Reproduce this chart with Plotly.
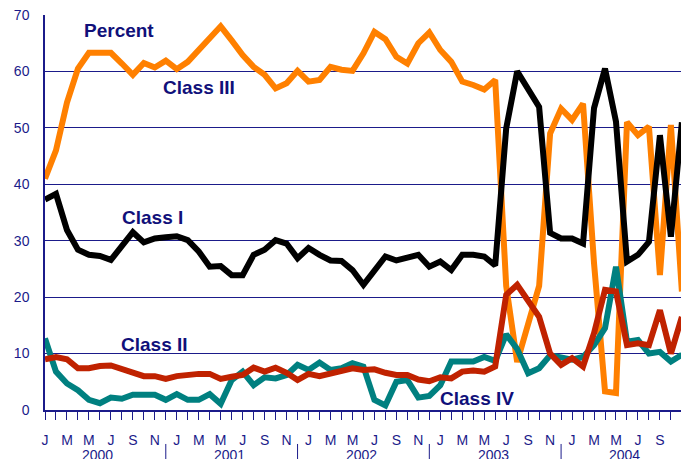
import plotly.graph_objects as go

# monthly series, Jan 2000 .. Nov 2004 (percent)
month_initials = ["J", "F", "M", "A", "M", "J", "J", "A", "S", "O", "N", "D"]
years = ["2000", "2001", "2002", "2003", "2004"]

class_i = [
    37.3, 38.3, 31.9, 28.4, 27.5, 27.3, 26.6, 29.2, 31.5, 29.7, 30.4, 30.6,
    30.8, 30.1, 28.1, 25.4, 25.5, 23.9, 23.9, 27.5, 28.4, 30.1, 29.5, 26.9,
    28.7, 27.5, 26.5, 26.4, 24.8, 22.2, 24.5, 27.2, 26.5, 26.9, 27.5, 25.4,
    26.3, 24.8, 27.5, 27.5, 27.2, 25.6, 49.9, 60.0, 57.0, 53.7, 31.4, 30.4,
    30.4, 29.5, 53.5, 60.5, 51.1, 26.3, 27.5, 29.8, 48.7, 30.7, 51.0,
]
class_ii = [
    9.0, 9.4, 9.0, 7.4, 7.4, 7.8, 7.9, 7.2, 6.5, 6.0, 6.0, 5.5,
    6.0, 6.3, 6.4, 6.4, 5.5, 5.9, 6.2, 7.5, 6.8, 7.5, 6.6, 5.3,
    6.4, 6.0, 6.4, 6.8, 7.4, 7.1, 7.2, 6.6, 6.2, 6.2, 5.4, 5.1,
    5.8, 5.6, 6.8, 7.0, 6.8, 7.7, 20.4, 22.2, 19.5, 16.5, 10.0, 8.0,
    9.2, 7.7, 13.6, 21.3, 21.0, 11.5, 11.8, 11.5, 17.7, 10.0, 16.5,
]
class_iii = [
    41.0, 46.0, 54.5, 60.5, 63.3, 63.4, 63.3, 61.4, 59.4, 61.5, 60.7, 61.9,
    60.4, 61.7, 63.8, 65.7, 68.0, 65.5, 62.9, 60.8, 59.4, 57.0, 57.9, 60.1,
    58.2, 58.5, 60.8, 60.3, 60.1, 63.2, 67.0, 65.7, 62.6, 61.4, 65.0, 66.9,
    63.8, 61.7, 58.2, 57.6, 56.8, 58.5, 22.0, 8.5, 15.5, 22.0, 49.0, 53.4,
    51.4, 54.3, 26.0, 3.3, 3.0, 51.0, 48.7, 50.2, 23.9, 50.5, 21.0,
]
class_iv = [
    12.7, 6.8, 4.7, 3.5, 1.8, 1.2, 2.2, 2.0, 2.7, 2.8, 2.7, 1.8,
    2.8, 1.8, 1.8, 2.8, 1.1, 5.3, 6.8, 4.4, 5.8, 5.6, 6.2, 8.0,
    7.1, 8.4, 7.1, 7.4, 8.3, 7.7, 1.8, 0.8, 5.0, 5.3, 2.2, 2.5,
    4.4, 8.6, 8.6, 8.6, 9.4, 8.7, 13.4, 10.8, 6.5, 7.4, 9.7, 9.4,
    8.9, 9.4, 11.5, 14.5, 25.4, 12.1, 12.4, 10.0, 10.3, 8.6, 9.8,
]

NAVY = "#1b1b8a"
TEXT = "#10107a"
FONT = "Liberation Sans, Arial, sans-serif"

months = list(range(len(class_i)))
tick_text = [month_initials[m % 12] if m % 2 == 0 else "" for m in months]

fig = go.Figure()
series = [
    ("Class III", class_iii, "#ff8000"),
    ("Class I", class_i, "#000000"),
    ("Class IV", class_iv, "#008080"),
    ("Class II", class_ii, "#c02200"),
]
for name, vals, color in series:
    fig.add_trace(
        go.Scatter(
            x=months,
            y=vals,
            mode="lines",
            name=name,
            line=dict(color=color, width=6),
        )
    )

# series labels written straight on the plot
labels = [
    ("Percent", 6.7, 67.2),
    ("Class III", 14.0, 57.1),
    ("Class I", 9.75, 34.2),
    ("Class II", 10.0, 11.6),
    ("Class IV", 39.3, 2.1),
]
for text, lx, ly in labels:
    fig.add_annotation(
        x=lx, y=ly, text=f"<b>{text}</b>", showarrow=False,
        font=dict(family=FONT, size=19, color=TEXT),
    )

# year row under the month letters, with separators
for k, yr in enumerate(years):
    fig.add_annotation(
        x=12 * k + 4.8, y=-0.114, xref="x", yref="paper", text=yr,
        showarrow=False, yanchor="middle",
        font=dict(family=FONT, size=14, color=NAVY),
    )
for k in range(len(years) - 1):
    fig.add_shape(
        type="line", xref="x", yref="paper",
        x0=12 * k + 11, x1=12 * k + 11, y0=-0.086, y1=-0.14,
        line=dict(color=NAVY, width=1),
    )

fig.update_layout(
    width=681,
    height=459,
    margin=dict(l=45, r=0, t=15, b=49, autoexpand=False),
    paper_bgcolor="white",
    plot_bgcolor="white",
    showlegend=False,
    font=dict(family=FONT, size=14, color=NAVY),
)
fig.update_xaxes(
    range=[0, 57.92],
    tickvals=months,
    ticktext=tick_text,
    ticks="outside",
    ticklen=8,
    tickcolor=NAVY,
    tickwidth=1,
    ticklabelstandoff=8,
    showgrid=False,
    zeroline=False,
    showline=True,
    linecolor=NAVY,
    linewidth=1.5,
    automargin=False,
    tickfont=dict(family=FONT, size=14, color=NAVY),
)
fig.update_yaxes(
    range=[0, 70],
    dtick=10,
    showgrid=True,
    gridcolor=NAVY,
    gridwidth=1,
    zeroline=False,
    showline=True,
    linecolor=NAVY,
    linewidth=1.5,
    ticks="",
    ticklabelstandoff=11,
    automargin=False,
    tickfont=dict(family=FONT, size=14, color=NAVY),
)

# drop the default 8px body margin so the figure fills the window
fig.write_html(
    "out.html",
    config={"displayModeBar": False},
    post_script="document.body.style.margin='0';document.body.style.overflow='hidden';",
)
